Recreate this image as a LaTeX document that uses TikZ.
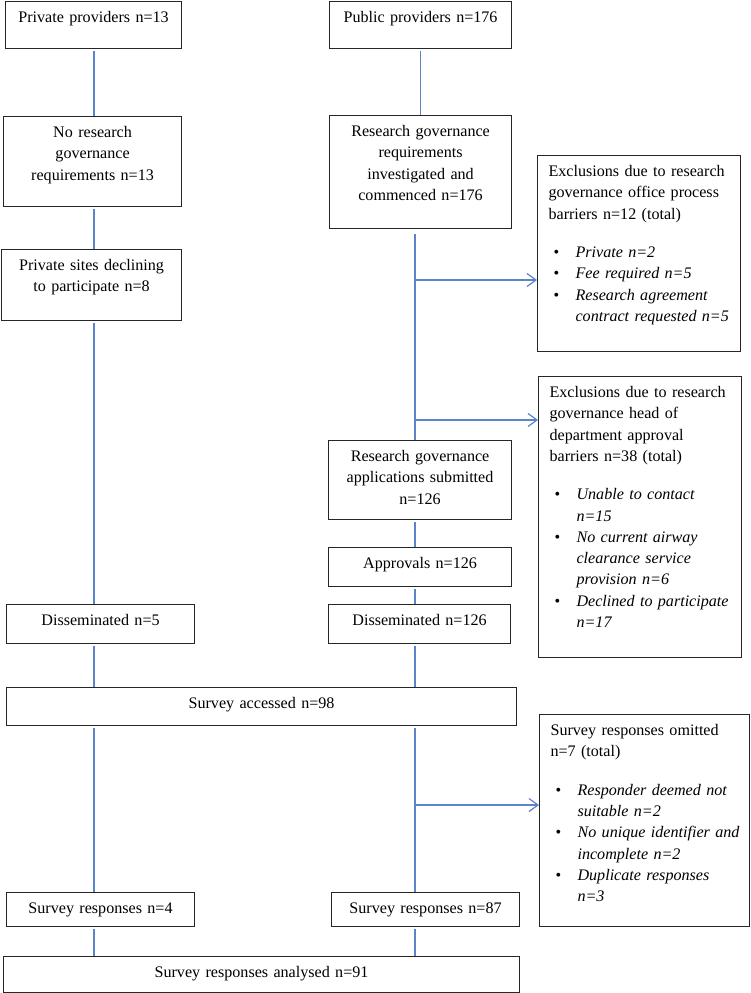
\documentclass[tikz,border=0pt]{standalone}
\usepackage{fontspec}
\setmainfont{Liberation Serif}
\usetikzlibrary{arrows.meta,calc}
\definecolor{ink}{HTML}{262626}
\definecolor{flow}{HTML}{5B84CB}
% bullet line with hanging indent, for the exclusion boxes
\newcommand{\bitem}[1]{\hangindent=27pt\hangafter=1\noindent
  \makebox[27pt][l]{\hspace{5pt}\textbullet}\textit{#1}\par}

\begin{document}
\begin{tikzpicture}[x=1pt,y=-1pt,line join=miter,
  box/.style={draw=ink,line width=1.1pt,anchor=north west,align=center,
    inner xsep=0pt,inner ysep=0pt,text height=21pt,
    font=\fontsize{16.1pt}{21.3pt}\selectfont},
  exbox/.style={box,align=left,inner xsep=11pt},
  link/.style={flow,line width=1.2pt,shorten <=2pt},
  branch/.style={flow,line width=1.2pt,-{Straight Barb[length=9pt,width=13pt]}}]
  \useasboundingbox (0,0) rectangle (750,993);

  % Private providers column.
  \node[box,text width=176pt,text depth=26pt] (privP) at (5,1) {Private providers n=13};
  \node[box,text width=178pt,text depth=69pt] (noRes) at (3,116)
    {No research\\governance\\requirements n=13};
  \node[box,text width=180pt,text depth=50pt] (privSites) at (1,249)
    {Private sites declining\\to participate n=8};
  \node[box,text width=188pt,text depth=18pt] (diss5) at (6,604) {Disseminated n=5};
  \node[box,text width=188pt,text depth=13pt] (resp4) at (6,892) {Survey responses n=4};

  % Public providers column.
  \node[box,text width=182pt,text depth=26pt] (pubP) at (329,1) {Public providers n=176};
  \node[box,text width=182pt,text depth=92pt] (resReq) at (329,115)
    {Research governance\\requirements\\investigated and\\commenced n=176};
  \node[box,text width=183pt,text depth=58pt] (apps) at (328,440)
    {Research governance\\applications submitted\\n=126};
  \node[box,text width=183pt,text depth=18pt] (approv) at (328,547) {Approvals n=126};
  \node[box,text width=182pt,text depth=18pt] (diss126) at (328,604) {Disseminated n=126};
  \node[box,text width=188pt,text depth=13pt] (resp87) at (331,892) {Survey responses n=87};

  % Joint boxes.
  \node[box,text width=510pt,text depth=17pt] (accessed) at (6,687) {Survey accessed n=98};
  \node[box,text width=516pt,text depth=15.5pt] (analysed) at (3,955.5)
    {Survey responses analysed n=91};

  % Exclusions.
  \node[exbox,text width=181pt,text depth=175pt] (exOffice) at (537,155)
    {Exclusions due to research\\governance office process\\barriers n=12 (total)\par\vspace{17pt}
     \bitem{Private n=2}
     \bitem{Fee required n=5}
     \bitem{Research agreement\newline contract requested n=5}};
  \node[exbox,text width=181pt,text depth=259.5pt] (exHead) at (538,376)
    {Exclusions due to research\\governance head of\\department approval\\barriers n=38 (total)\par\vspace{17pt}
     \bitem{Unable to contact\newline n=15}
     \bitem{No current airway\newline clearance service\newline provision n=6}
     \bitem{Declined to participate\newline n=17}};
  \node[exbox,text width=188pt,text depth=191pt] (exSurvey) at (539,714)
    {Survey responses omitted\\n=7 (total)\par\vspace{17pt}
     \bitem{Responder deemed not\newline suitable n=2}
     \bitem{\mbox{No unique identifier and}\newline incomplete n=2}
     \bitem{Duplicate responses\newline n=3}};

  % Connectors.
  \coordinate (lx) at (94,0);
  \coordinate (rx) at (415,0);
  \draw[link] (privP.south -| lx) -- (noRes.north -| lx);
  \draw[link] (noRes.south -| lx) -- (privSites.north -| lx);
  \draw[link] (privSites.south -| lx) -- (diss5.north -| lx);
  \draw[link] (diss5.south -| lx) -- (accessed.north -| lx);
  \draw[link] (accessed.south -| lx) -- (resp4.north -| lx);
  \draw[link] (resp4.south -| lx) -- (analysed.north -| lx);

  \draw[link] (pubP.south) -- (resReq.north);
  \draw[link,shorten <=5pt] (resReq.south -| rx) -- (apps.north -| rx);
  \draw[link] (apps.south -| rx) -- (approv.north -| rx);
  \draw[link] (approv.south -| rx) -- (diss126.north -| rx);
  \draw[link] (diss126.south -| rx) -- (accessed.north -| rx);
  \draw[link] (accessed.south -| rx) -- (resp87.north -| rx);
  \draw[link] (resp87.south -| rx) -- (analysed.north -| rx);

  \coordinate (b1) at (415,280);
  \coordinate (b2) at (415,420);
  \coordinate (b3) at (415,805);
  \draw[branch] (b1) -- (b1 -| exOffice.west);
  \draw[branch] (b2) -- (b2 -| exHead.west);
  \draw[branch] (b3) -- (b3 -| exSurvey.west);
\end{tikzpicture}
\end{document}
